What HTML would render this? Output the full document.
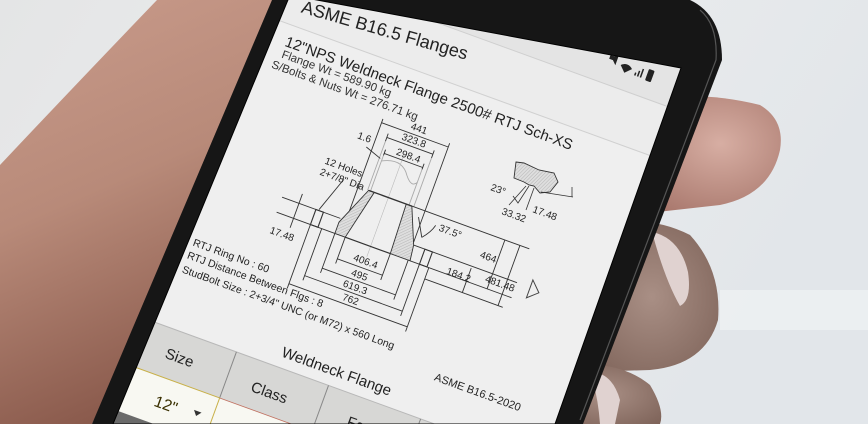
<!DOCTYPE html>
<html><head><meta charset="utf-8"><style>
html,body{margin:0;padding:0;width:868px;height:424px;overflow:hidden;background:#e6e8ea}
svg{display:block;position:absolute;left:0;top:0}
text{font-family:"Liberation Sans",sans-serif}
</style></head><body>
<svg width="868" height="424" viewBox="0 0 868 424" xmlns="http://www.w3.org/2000/svg">
<defs>
<linearGradient id="bg" x1="0" y1="0" x2="1" y2="0.3">
<stop offset="0" stop-color="#e4e5e6"/><stop offset="0.5" stop-color="#eceded"/><stop offset="1" stop-color="#e2e6ea"/>
</linearGradient>
<linearGradient id="skinL" x1="0" y1="0" x2="0.3" y2="1">
<stop offset="0" stop-color="#c99b8b"/><stop offset="0.5" stop-color="#b88a79"/><stop offset="1" stop-color="#8a5a4c"/>
</linearGradient>
<radialGradient id="f1" cx="0.6" cy="0.4" r="0.7">
<stop offset="0" stop-color="#d7aea3"/><stop offset="1" stop-color="#a7766b"/>
</radialGradient>
<radialGradient id="f2" cx="0.5" cy="0.5" r="0.7">
<stop offset="0" stop-color="#a98f85"/><stop offset="1" stop-color="#7d6258"/>
</radialGradient>
<pattern id="hatch" width="2.5" height="2.5" patternUnits="userSpaceOnUse" patternTransform="rotate(45)">
<rect width="3" height="3" fill="#dedede"/><line x1="0" y1="0" x2="0" y2="3" stroke="#999" stroke-width="0.6"/>
</pattern>
<clipPath id="scr"><polygon points="290,-5 681,68 555,424 113,424"/></clipPath>
</defs>
<rect width="868" height="424" fill="url(#bg)"/>
<rect x="720" y="290" width="148" height="40" fill="#f0f2f4" opacity="0.7"/>
<!-- left hand -->
<path d="M157,0 L290,0 L92,424 L0,424 L0,165 Q80,80 157,0 Z" fill="url(#skinL)"/>
<!-- right fingers -->
<path d="M640,100 Q700,90 760,105 Q785,120 780,150 Q770,195 720,205 L630,215 Z" fill="url(#f1)"/>
<path d="M610,225 Q650,215 690,235 Q722,270 718,320 Q705,365 650,370 L585,372 Z" fill="url(#f2)"/>
<path d="M652,232 Q680,238 688,272 Q692,300 680,306 Q665,280 652,232 Z" fill="#e0d2d0"/>
<path d="M565,365 Q620,360 650,385 Q665,410 660,424 L548,424 Z" fill="url(#f2)"/>
<path d="M590,372 Q612,372 620,400 L615,424 L600,424 Q598,395 590,372 Z" fill="#e0d2d0"/>
<!-- phone body -->
<path d="M272,0 L690,0 Q722,15 722,60 L583,424 L92,424 Z" fill="#161616"/>
<path d="M700,10 Q718,25 716,60 L580,420" fill="none" stroke="#555" stroke-width="1.2"/>
<!-- screen -->
<g clip-path="url(#scr)">
<rect width="868" height="424" fill="#efefef"/>
<g transform="translate(290,0) rotate(20)">
<rect x="-60" y="-90" width="520" height="62" fill="#e4e4e4"/>
<rect x="-60" y="-29" width="520" height="52" fill="#ececec"/>
<line x1="-60" y1="-29" x2="460" y2="-29" stroke="#cfcfcf"/>
<line x1="-60" y1="23" x2="460" y2="23" stroke="#d0d0d0"/>
<g fill="#222">
<path d="M320,-58 l4,0 l4,-4 l0,12 l-4,-4 l-4,0 z"/>
<path d="M333,-52 a8,8 0 0 1 12,0 l-6,6 z"/>
<rect x="349" y="-50" width="1.5" height="3"/><rect x="352" y="-53" width="1.5" height="6"/><rect x="355" y="-56" width="1.5" height="9"/>
<rect x="361" y="-58" width="6" height="12" rx="1"/>
</g>
<text x="14" y="8" font-size="18" fill="#222" transform="rotate(-4 14 8)">ASME B16.5 Flanges</text>
<text x="10" y="45" font-size="15" fill="#222">12"NPS Weldneck Flange 2500# RTJ Sch-XS</text>
<text x="11" y="57" font-size="11.5" fill="#333">Flange Wt =  589.90 kg</text>
<text x="5" y="70" font-size="11.5" fill="#333">S/Bolts &amp; Nuts Wt =  276.71 kg</text>
<g stroke="#333" stroke-width="0.9" fill="none">
<line x1="138" y1="100" x2="138" y2="152" stroke="#aaa"/>
<line x1="141" y1="108" x2="141" y2="152" stroke="#aaa"/>
<line x1="182" y1="108" x2="182" y2="152" stroke="#aaa"/>
<line x1="187" y1="100" x2="187" y2="152" stroke="#aaa"/>
<path d="M141,120 Q160,110 170,125 Q178,135 182,128" stroke="#aaa"/>
<line x1="160" y1="105" x2="160" y2="215" stroke="#bbb" stroke-width="0.6"/>
<line x1="128" y1="80" x2="128" y2="188"/><line x1="199" y1="80" x2="199" y2="188"/>
<line x1="138" y1="92" x2="138" y2="100"/><line x1="187" y1="92" x2="187" y2="100"/>
<line x1="141" y1="108" x2="141" y2="114"/><line x1="182" y1="108" x2="182" y2="114"/>
<line x1="128" y1="84" x2="199" y2="84"/>
<line x1="138" y1="96" x2="187" y2="96"/>
<line x1="141" y1="112" x2="182" y2="112"/>
<polygon points="139,152 145,152 133,204 122,204 122,192" fill="url(#hatch)"/>
<polygon points="179,152 185,152 200,188 202,204 181,204" fill="url(#hatch)"/>
<line x1="139" y1="152" x2="185" y2="152" stroke-width="1.3"/>
<line x1="133" y1="204" x2="181" y2="204" stroke-width="1.2"/>
<line x1="60" y1="188" x2="122" y2="188"/>
<line x1="60" y1="204" x2="122" y2="204"/>
<line x1="200" y1="188" x2="310" y2="188"/>
<line x1="202" y1="204" x2="310" y2="204"/>
<rect x="96" y="188" width="8" height="16" stroke-width="1.1"/>
<rect x="212" y="188" width="8" height="16" stroke-width="1.1"/>
<line x1="185" y1="152" x2="310" y2="152"/>
<line x1="133" y1="204" x2="133" y2="232"/><line x1="181" y1="204" x2="181" y2="232"/>
<line x1="122" y1="204" x2="122" y2="246"/><line x1="200" y1="204" x2="200" y2="246"/>
<line x1="108" y1="204" x2="108" y2="259"/><line x1="212" y1="204" x2="212" y2="259"/>
<line x1="96" y1="204" x2="96" y2="272"/><line x1="222" y1="204" x2="222" y2="272"/>
<line x1="133" y1="227" x2="181" y2="227"/>
<line x1="122" y1="241" x2="200" y2="241"/>
<line x1="108" y1="254" x2="212" y2="254"/>
<line x1="96" y1="267" x2="222" y2="267"/>
<line x1="222" y1="216" x2="265" y2="216"/>
<line x1="262" y1="190" x2="262" y2="216"/>
<line x1="284" y1="152" x2="284" y2="204"/>
<line x1="300" y1="152" x2="300" y2="216"/>
<line x1="265" y1="216" x2="305" y2="216"/>
<line x1="78" y1="178" x2="78" y2="214"/>
<line x1="112" y1="150" x2="99" y2="187"/>
<line x1="122" y1="112" x2="139" y2="118"/>
<path d="M195,160 L205,178 M205,178 Q212,170 214,162"/>
</g>
<g font-size="10" fill="#222">
<text x="157" y="80">441</text>
<text x="152" y="93">323.8</text>
<text x="152" y="109">298.4</text>
<text x="110" y="107">1.6</text>
<text x="88" y="142">12 Holes</text>
<text x="87" y="154">2+7/8" Dia</text>
<text x="60" y="226">17.48</text>
<text x="218" y="166">37.5°</text>
<text x="148" y="223">406.4</text>
<text x="151" y="238">495</text>
<text x="147" y="251">619.3</text>
<text x="151" y="264">762</text>
<text x="266" y="177">464</text>
<text x="240" y="204">184.2</text>
<text x="279" y="198">481.48</text>
<text x="-8" y="264" font-size="10.5">RTJ Ring No : 60</text>
<text x="-9" y="278" font-size="10.5">RTJ Distance Between Flgs : 8</text>
<text x="-9" y="293" font-size="10.5">StudBolt Size : 2+3/4" UNC  (or M72)  x 560 Long</text>
<text x="265" y="308" font-size="11">ASME B16.5-2020</text>
</g>
<polygon points="324,180 334,190 324,199" fill="none" stroke="#444" stroke-width="1"/>
<text x="113" y="338" font-size="15" fill="#222">Weldneck Flange</text>
<rect x="-60" y="349" width="520" height="49" fill="#d7d7d5"/>
<line x1="-60" y1="349" x2="460" y2="349" stroke="#b8b8b8"/>
<line x1="70" y1="349" x2="70" y2="445" stroke="#888"/>
<line x1="168" y1="349" x2="168" y2="445" stroke="#888"/>
<line x1="266" y1="349" x2="266" y2="445" stroke="#888"/>
<rect x="-60" y="398" width="520" height="47" fill="#f8f8f2"/>
<line x1="-60" y1="398" x2="70" y2="398" stroke="#c8b048"/>
<line x1="70" y1="398" x2="168" y2="398" stroke="#c07060" stroke-width="0.8"/>
<line x1="70" y1="398" x2="70" y2="445" stroke="#c8b048"/>
<rect x="-60" y="445" width="520" height="40" fill="#6a6a6a"/>
<text x="4" y="379" font-size="15" fill="#222">Size</text>
<text x="96" y="381" font-size="15" fill="#222">Class</text>
<text x="198" y="381" font-size="15" fill="#222">Fa</text>
<text x="10" y="428" font-size="16" fill="#3a3000">12"</text>
<polygon points="50,418 58,418 54,423" fill="#333"/>
</g>
<path d="M516,162 L524,163 L539,170 L554,173 L558,182 L550,192 L540,193 L534,186 L529,185 L524,182 L514,178 Z" fill="url(#hatch)" stroke="#333" stroke-width="0.9"/>
<g stroke="#333" stroke-width="0.8" fill="none">
<line x1="541" y1="192" x2="573" y2="197"/><line x1="572" y1="187" x2="572" y2="197"/>
<path d="M529,186 L518,203 L513,196"/>
<line x1="526" y1="186" x2="509" y2="205"/>
<line x1="534" y1="188" x2="526" y2="210"/>
</g>
<g font-size="10" fill="#222">
<text x="490" y="190" transform="rotate(20 490 190)">23°</text>
<text x="501" y="214" transform="rotate(20 501 214)">33.32</text>
<text x="532" y="212" transform="rotate(20 532 212)">17.48</text>
</g>
</g>
<polygon points="290,-5 681,68 555,424 113,424" fill="none" stroke="#000" stroke-width="1"/>
</svg>
</body></html>
